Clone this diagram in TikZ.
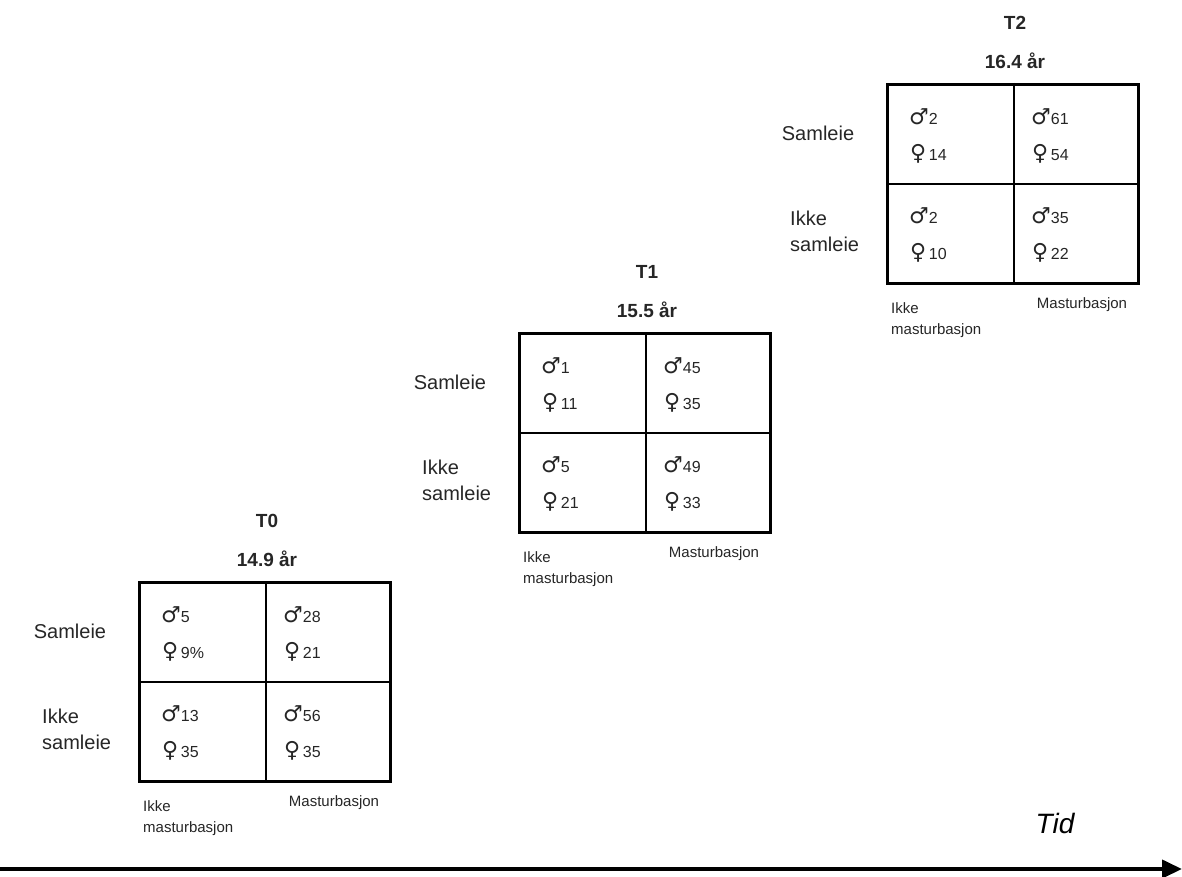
\documentclass[tikz,border=0pt]{standalone}
\usepackage{fontspec}
\setmainfont{Liberation Sans}
\newfontfamily\symfont{DejaVu Sans}
\usetikzlibrary{arrows.meta}

\newcommand\msym[1]{{\symfont\bfseries\fontsize{22}{24}\selectfont ♂}#1}
\newcommand\fsym[1]{{\symfont\bfseries\fontsize{22}{24}\selectfont ♀}\,#1}

\begin{document}
\begin{tikzpicture}[x=1pt, y=-1pt,
  table/.style = {draw, line width=3pt, minimum width=251, minimum height=199, anchor=north west, inner sep=0pt},
  cell/.style = {anchor=west, inner sep=0pt, font=\fontsize{16}{18}\selectfont, text=black!85},
  rowlabel/.style = {font=\fontsize{20}{26}\selectfont, align=left, inner sep=0pt, text=black!85},
  collabel/.style = {font=\fontsize{15}{21}\selectfont, align=left, inner sep=0pt, text=black!85},
  title/.style = {font=\bfseries\fontsize{19}{24}\selectfont, inner sep=0pt, text=black!85}]
  \useasboundingbox (0,0) rectangle (1182,877);

  \foreach \t/\x/\y/\age/\a/\b/\c/\d/\e/\f/\g/\h in {
      T0/138/581/14.9/5/9\%/28/21/13/35/56/35,
      T1/518/332/15.5/1/11/45/35/5/21/49/33,
      T2/886/83/16.4/2/14/61/54/2/10/35/22}
  {
    \node[table] (\t) at (\x,\y) {};
    \draw[line width=1.8pt] (\x+128,\y) -- (\x+128,\y+199);
    \draw[line width=1.8pt] (\x,\y+101) -- (\x+251,\y+101);

    \node[title] (\t-name) at (\x+129,\y-60) {\t};
    \node[title] (\t-age) at (\x+129,\y-22) {\age\ år};

    \node[rowlabel] (\t-sam) at (\x-68,\y+50) {Samleie};
    \node[rowlabel, anchor=west] (\t-ikkesam) at (\x-96,\y+148) {Ikke\\samleie};
    \node[collabel, anchor=west] (\t-ikkemas) at (\x+5,\y+237) {Ikke\\masturbasjon};
    \node[collabel] (\t-mas) at (\x+196,\y+222) {Masturbasjon};

    \node[cell] (\t-am) at (\x+23,\y+34) {\msym{\a}};
    \node[cell] (\t-af) at (\x+24,\y+71) {\fsym{\b}};
    \node[cell] (\t-bm) at (\x+145,\y+34) {\msym{\c}};
    \node[cell] (\t-bf) at (\x+146,\y+71) {\fsym{\d}};
    \node[cell] (\t-cm) at (\x+23,\y+133) {\msym{\e}};
    \node[cell] (\t-cf) at (\x+24,\y+170) {\fsym{\f}};
    \node[cell] (\t-dm) at (\x+145,\y+133) {\msym{\g}};
    \node[cell] (\t-df) at (\x+146,\y+170) {\fsym{\h}};
  }

  % tidsakse
  \coordinate (tstart) at (0,869);
  \coordinate (tend) at (1182,869);
  \draw[line width=4pt, -{Triangle[length=20pt, width=18pt]}] (tstart) -- (tend);
  \node[font=\itshape\fontsize{28}{30}\selectfont] (tid) at (1055,823) {Tid};
\end{tikzpicture}
\end{document}
